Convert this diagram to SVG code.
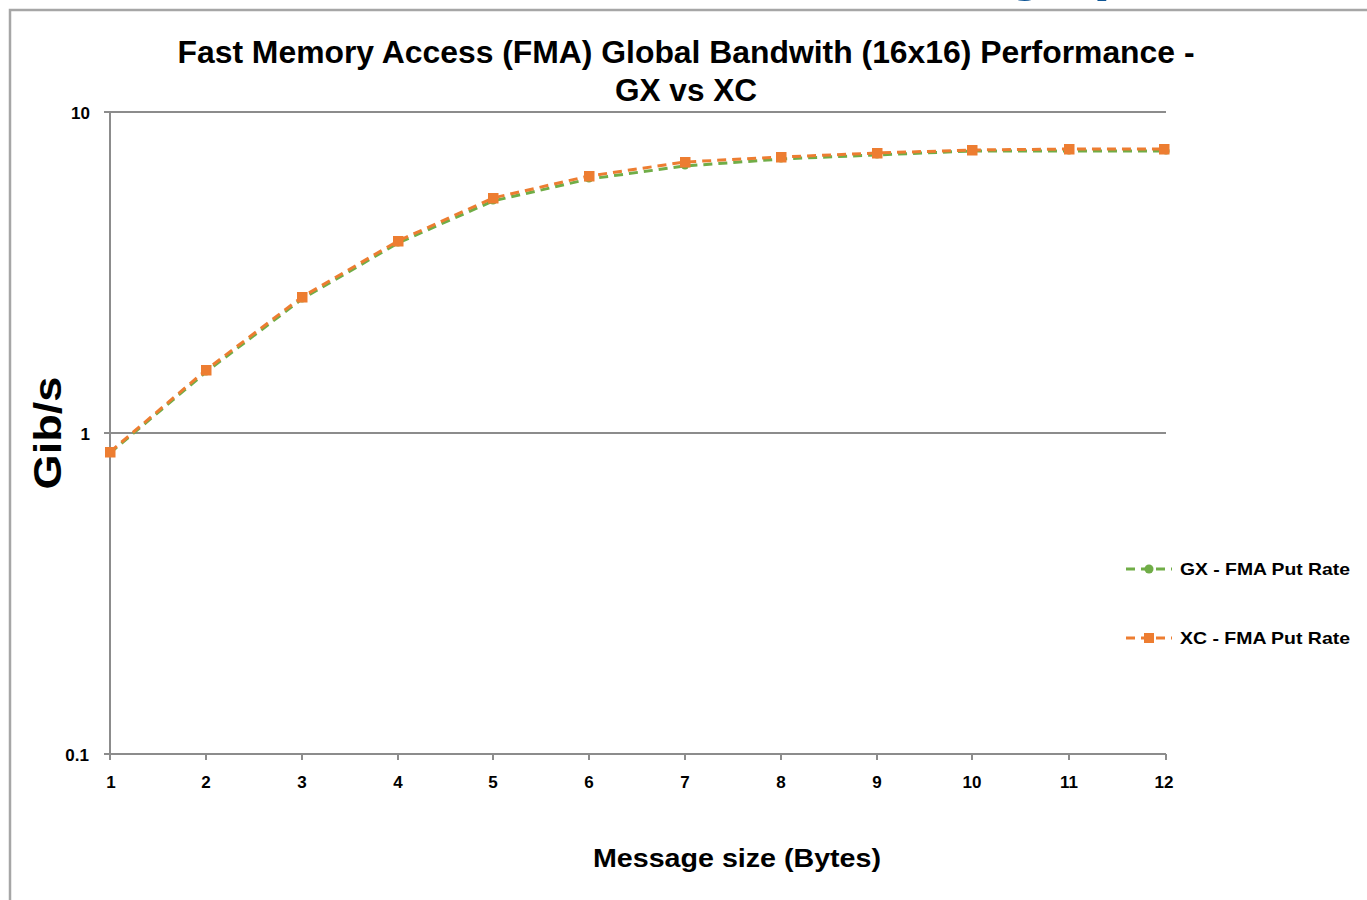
<svg xmlns="http://www.w3.org/2000/svg" width="1367" height="900" viewBox="0 0 1367 900">
<defs>
<style>
.t{font-family:"Liberation Sans",Arial,sans-serif;font-weight:bold;fill:#000}
.tick{font-size:17px}
.grid{stroke:#8c8c8c;stroke-width:2;fill:none}
.gx{stroke:#70AD47;stroke-width:3;fill:none;stroke-dasharray:9 6}
.xc{stroke:#ED7D31;stroke-width:3;fill:none;stroke-dasharray:9 6}
</style>
<clipPath id="topclip"><rect x="0" y="0" width="1367" height="8"/></clipPath>
<marker id="mg" viewBox="0 0 10 10" refX="5" refY="5" markerWidth="8" markerHeight="8" markerUnits="userSpaceOnUse"><circle cx="5" cy="5" r="4.5" fill="#70AD47"/></marker>
<marker id="mo" viewBox="0 0 10 10" refX="5" refY="5" markerWidth="11" markerHeight="11" markerUnits="userSpaceOnUse"><rect x="0" y="0" width="10" height="10" fill="#ED7D31"/></marker>
</defs>
<rect width="1367" height="900" fill="#fff"/>
<g id="slide-title" clip-path="url(#topclip)">
<text x="1006" y="-12" style="font-family:'Liberation Sans',Arial,sans-serif;font-weight:bold;font-size:64px;fill:#0E5596">g</text>
<text x="1093" y="-12" style="font-family:'Liberation Sans',Arial,sans-serif;font-weight:bold;font-size:64px;fill:#0E5596">p</text>
</g>
<g id="frame"><path d="M10 900 V10 H1367" stroke="#a6a6a6" stroke-width="2.5" fill="none"/></g>
<g id="title">
<text class="t" x="686" y="63" text-anchor="middle" font-size="31" textLength="1017" lengthAdjust="spacingAndGlyphs">Fast Memory Access (FMA) Global Bandwith (16x16) Performance -</text>
<text class="t" x="686" y="101" text-anchor="middle" font-size="31" textLength="142" lengthAdjust="spacingAndGlyphs">GX vs XC</text>
</g>
<g id="axes">
<path class="grid" d="M104 112 H1166 M104 433 H1166 M104 754 H1166 M110 112 V754"/>
<path class="grid" d="M110 754 v6 M206 754 v6 M302 754 v6 M398 754 v6 M493 754 v6 M589 754 v6 M685 754 v6 M781 754 v6 M877 754 v6 M972 754 v6 M1069 754 v6 M1166 754 v6"/>
</g>
<g id="y-labels" class="t tick" text-anchor="end">
<text x="90" y="119">10</text>
<text x="90" y="440">1</text>
<text x="89" y="761">0.1</text>
</g>
<g id="x-labels" class="t tick" text-anchor="middle">
<text x="111" y="788">1</text><text x="206" y="788">2</text><text x="302" y="788">3</text><text x="398" y="788">4</text><text x="493" y="788">5</text><text x="589" y="788">6</text><text x="685" y="788">7</text><text x="781" y="788">8</text><text x="877" y="788">9</text><text x="972" y="788">10</text><text x="1069" y="788">11</text><text x="1164" y="788">12</text>
</g>
<g id="axis-titles">
<text class="t" x="0" y="0" font-size="38" text-anchor="middle" transform="translate(61 433) rotate(-90)" textLength="113" lengthAdjust="spacingAndGlyphs">Gib/s</text>
<text class="t" x="737" y="867" font-size="26" text-anchor="middle" textLength="288" lengthAdjust="spacingAndGlyphs">Message size (Bytes)</text>
</g>
<g id="connectors">
<polyline id="gx-series" class="gx" marker-start="url(#mg)" marker-mid="url(#mg)" marker-end="url(#mg)" points="110,453 206,372 302,299 398,243 493,201 589,179 685,166 781,159 877,155 972,151 1069,151 1166,151"/>
<polyline id="xc-series" class="xc" marker-start="url(#mo)" marker-mid="url(#mo)" marker-end="url(#mo)" points="110,452 206,370 302,297 398,241 493,198 589,176 685,162 781,157 877,153 972,150 1069,149 1164,149"/>
</g>
<g id="legend">
<g id="legend-gx">
<path class="gx" d="M1126 569 H1172"/>
<circle cx="1149" cy="569" r="4.5" fill="#70AD47"/>
<text class="t" x="1180" y="575" font-size="17" textLength="170" lengthAdjust="spacingAndGlyphs">GX - FMA Put Rate</text>
</g>
<g id="legend-xc">
<path class="xc" d="M1126 638 H1172"/>
<rect x="1144" y="633" width="10" height="10" fill="#ED7D31"/>
<text class="t" x="1180" y="644" font-size="17" textLength="170" lengthAdjust="spacingAndGlyphs">XC - FMA Put Rate</text>
</g>
</g>
</svg>
